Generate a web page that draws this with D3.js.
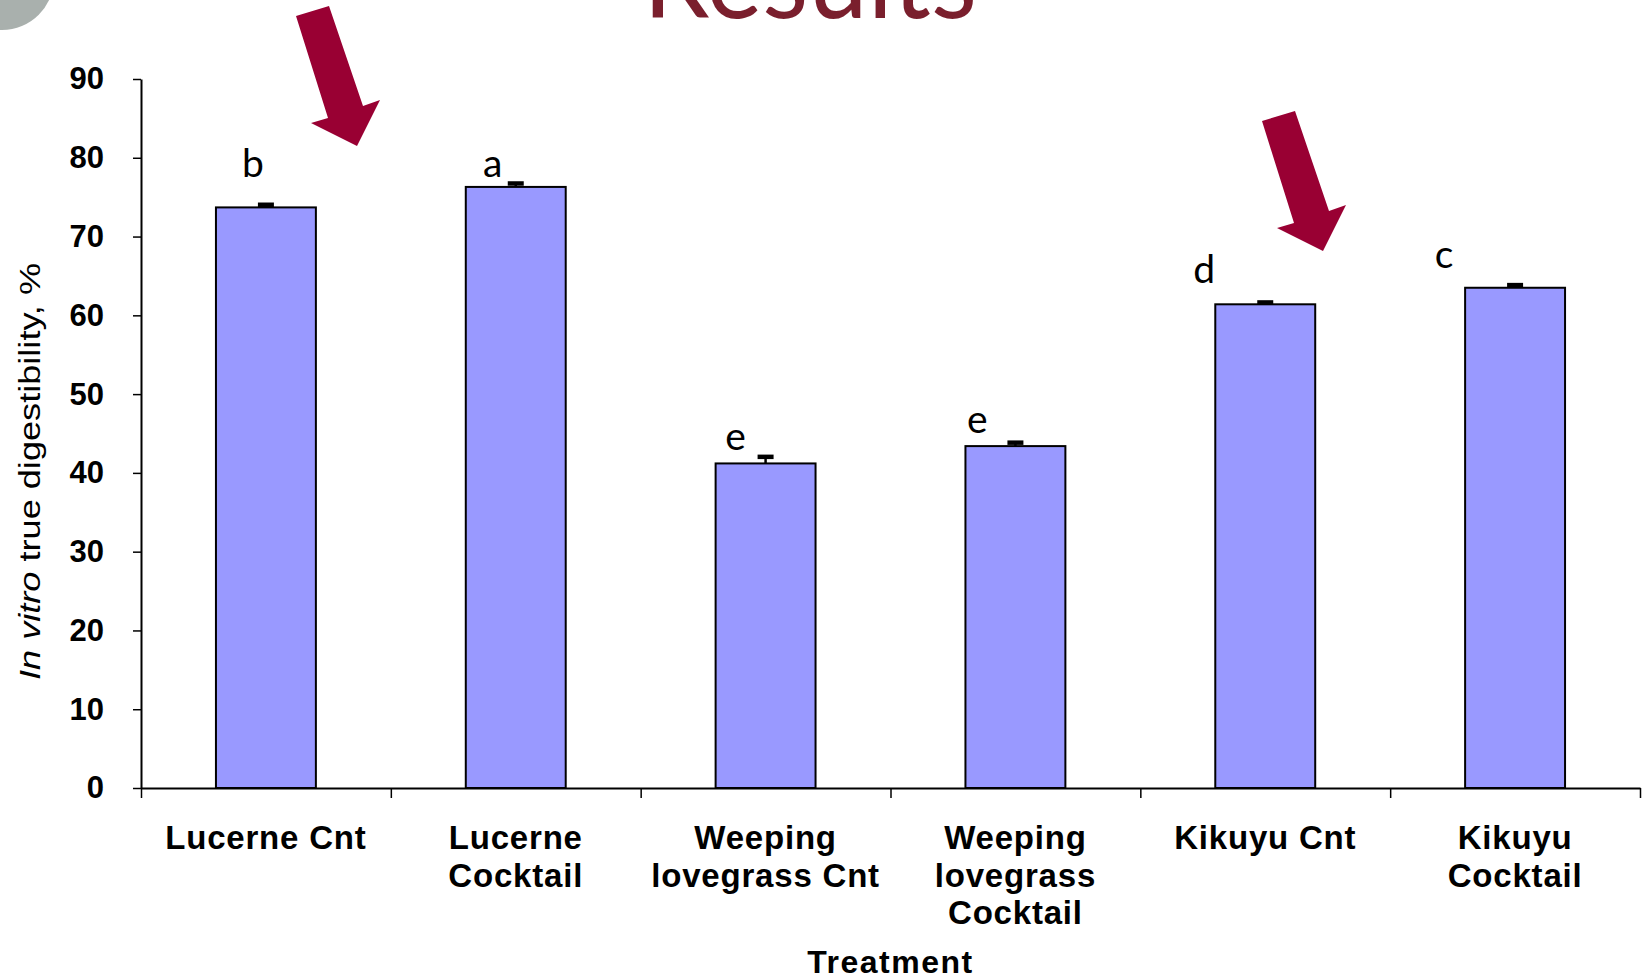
<!DOCTYPE html>
<html>
<head>
<meta charset="utf-8">
<script src="https://cdn.jsdelivr.net/npm/d3@7/dist/d3.min.js"></script>
<style>
  html, body { margin: 0; padding: 0; background: #ffffff; }
  svg { display: block; }
</style>
</head>
<body>
<svg id="chart" width="1648" height="980"></svg>
<script>
// ---------------- data ----------------
const categories = [
  ["Lucerne Cnt"],
  ["Lucerne", "Cocktail"],
  ["Weeping", "lovegrass Cnt"],
  ["Weeping", "lovegrass", "Cocktail"],
  ["Kikuyu Cnt"],
  ["Kikuyu", "Cocktail"]
];
const values = [73.7, 76.3, 41.2, 43.4, 61.4, 63.5];
const errors = [0.4, 0.5, 0.9, 0.5, 0.3, 0.4];
const letters = ["b", "a", "e", "e", "d", "c"];
const yTicks = [0, 10, 20, 30, 40, 50, 60, 70, 80, 90];
const yLabelItalic = "In vitro";
const yLabelRest = " true digestibility, %";
const xLabel = "Treatment";
const title = "Results";

// ---------------- layout ----------------
const X0 = 141, X1 = 1640, Y0 = 788, Y1 = 79;
const letterDx = [-13, -23, -30, -38, -61, -71];
const letterDy = [-30, -10, -13, -13, -21, -20];

const svg = d3.select("#chart");
const ids = d3.range(categories.length);

const x = d3.scaleBand().domain(ids).range([X0, X1]).paddingInner(0.6).paddingOuter(0.3);
const xEdge = d3.scaleLinear().domain([0, categories.length]).range([X0, X1]);
const y = d3.scaleLinear().domain([0, 90]).range([Y0, Y1]);

// decoration top-left
svg.append("circle").attr("cx", 2).attr("cy", -22).attr("r", 52).attr("fill", "#a9b0ad");

// title (cropped at top, as in the reference)
svg.append("text")
  .attr("x", 643).attr("y", 18)
  .attr("textLength", 334).attr("lengthAdjust", "spacingAndGlyphs")
  .attr("font-family", "Lato, 'Open Sans', sans-serif")
  .attr("font-size", 112)
  .attr("fill", "#7a1f2d")
  .text(title);

// arrows
const arrowShape = [[-61, -130], [-28, -140], [6, -40], [23, -46], [0, 0], [-46, -23], [-29, -28]];
const arrowTips = [[357, 146], [1323, 251]];
arrowTips.forEach(t => {
  svg.append("path")
    .attr("d", d3.line()(arrowShape.map(p => [t[0] + p[0], t[1] + p[1]])) + "Z")
    .attr("fill", "#990033");
});

// y axis
const yAxis = svg.append("g")
  .attr("transform", `translate(${X0},0)`)
  .call(d3.axisLeft(y).tickValues(yTicks).tickSize(8).tickPadding(29).tickSizeOuter(0));
yAxis.select(".domain").attr("stroke", "#000").attr("stroke-width", 2);
yAxis.selectAll(".tick line").attr("stroke", "#000").attr("stroke-width", 1.5);
yAxis.selectAll(".tick text")
  .attr("font-family", "'Liberation Sans', Arial, sans-serif")
  .attr("font-weight", "bold").attr("font-size", 31).attr("fill", "#000");

// x axis boundary ticks
const xAxis = svg.append("g")
  .attr("transform", `translate(0,${Y0})`)
  .call(d3.axisBottom(xEdge).tickValues(d3.range(categories.length + 1)).tickFormat("").tickSize(10).tickSizeOuter(0));
xAxis.select(".domain").attr("stroke", "#000").attr("stroke-width", 2);
xAxis.selectAll(".tick line").attr("stroke", "#000").attr("stroke-width", 1.5);

// x category labels
const xLab = svg.append("g")
  .attr("transform", `translate(0,${Y0})`)
  .call(d3.axisBottom(x).tickSize(0).tickFormat(""));
xLab.select(".domain").remove();
xLab.selectAll(".tick").each(function(d) {
  const t = d3.select(this).append("text")
    .attr("fill", "#000")
    .attr("font-family", "'Liberation Sans', Arial, sans-serif")
    .attr("font-weight", "bold").attr("font-size", 33)
    .attr("letter-spacing", 0.8)
    .attr("text-anchor", "middle");
  categories[d].forEach((line, i) => {
    t.append("tspan").attr("x", 0).attr("y", 61 + i * 37.5).text(line);
  });
});

// bars
svg.append("g").selectAll("rect").data(values).join("rect")
  .attr("x", (d, i) => x(i))
  .attr("y", d => y(d))
  .attr("width", x.bandwidth())
  .attr("height", d => y(0) - y(d))
  .attr("fill", "#9999ff")
  .attr("stroke", "#000").attr("stroke-width", 2);

// error bars (upper)
const eb = svg.append("g");
values.forEach((v, i) => {
  const cx = x(i) + x.bandwidth() / 2;
  eb.append("line").attr("x1", cx).attr("x2", cx)
    .attr("y1", y(v)).attr("y2", y(v + errors[i]))
    .attr("stroke", "#000").attr("stroke-width", 2.5);
  eb.append("line").attr("x1", cx - 8).attr("x2", cx + 8)
    .attr("y1", y(v + errors[i]) + 0.5).attr("y2", y(v + errors[i]) + 0.5)
    .attr("stroke", "#000").attr("stroke-width", 4.5);
});

// significance letters
svg.append("g").selectAll("text").data(letters).join("text")
  .attr("x", (d, i) => x(i) + x.bandwidth() / 2 + letterDx[i])
  .attr("y", (d, i) => y(values[i]) + letterDy[i])
  .attr("text-anchor", "middle")
  .attr("font-family", "Lato, 'Open Sans', sans-serif")
  .attr("font-size", 39)
  .attr("fill", "#000")
  .text(d => d);

// axis titles
svg.append("text")
  .attr("x", (X0 + X1) / 2).attr("y", 973)
  .attr("text-anchor", "middle")
  .attr("font-family", "'Liberation Sans', Arial, sans-serif")
  .attr("font-weight", "bold").attr("font-size", 32)
  .attr("letter-spacing", 1.5)
  .attr("fill", "#000")
  .text(xLabel);

const yl = svg.append("text")
  .attr("transform", "translate(40,471.5) rotate(-90)")
  .attr("text-anchor", "middle")
  .attr("font-family", "'Liberation Sans', Arial, sans-serif")
  .attr("font-size", 30)
  .attr("textLength", 417).attr("lengthAdjust", "spacingAndGlyphs")
  .attr("fill", "#000");
yl.append("tspan").attr("font-style", "italic").text(yLabelItalic);
yl.append("tspan").text(yLabelRest);
</script>
</body>
</html>
